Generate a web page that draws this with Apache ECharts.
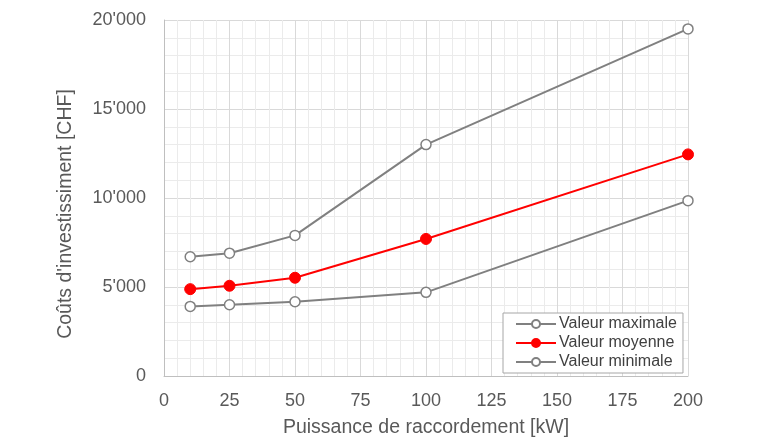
<!DOCTYPE html>
<html>
<head>
<meta charset="utf-8">
<script src="https://cdn.jsdelivr.net/npm/echarts@6/dist/echarts.min.js"></script>
<style>
  html, body { margin: 0; padding: 0; background: #fff; }
  #chart { width: 760px; height: 440px; }
</style>
</head>
<body>
<div id="chart"></div>
<script>
const puissance = [10, 25, 50, 100, 200]
const valeurMax = [6700, 6900, 7900, 13000, 19500]
const valeurMoy = [4880, 5070, 5520, 7700, 12450]
const valeurMin = [3910, 4000, 4170, 4700, 9850]

const pairs = (vals) => puissance.map((x, i) => [x, vals[i]])
const fmt = (v) => String(v).replace(/\B(?=(\d{3})+(?!\d))/g, "'")

const mychart = echarts.init(document.getElementById('chart'))
const font = 'Liberation Sans, Arial, sans-serif'

mychart.setOption({
  animation: false,
  textStyle: { fontFamily: font },
  grid: { left: 164, right: 72, top: 20, bottom: 64, containLabel: false, outerBoundsMode: 'none' },
  xAxis: {
    type: 'value',
    min: 0,
    max: 200,
    interval: 25,
    name: 'Puissance de raccordement [kW]',
    nameLocation: 'middle',
    nameGap: 42,
    nameTextStyle: { fontSize: 19.5, color: '#595959' },
    axisLine: { show: true, lineStyle: { color: '#bfbfbf', width: 1 } },
    axisTick: { show: false },
    axisLabel: { fontSize: 18, color: '#595959', margin: 16 },
    splitLine: { show: true, lineStyle: { color: '#d9d9d9', width: 1 } },
    minorTick: { show: false, splitNumber: 5 },
    minorSplitLine: { show: true, lineStyle: { color: '#ebebeb', width: 1 } }
  },
  yAxis: {
    type: 'value',
    min: 0,
    max: 20000,
    interval: 5000,
    name: "Coûts d'investissiment [CHF]",
    nameLocation: 'middle',
    nameGap: 88,
    nameTextStyle: { fontSize: 19.5, color: '#595959', padding: [0, 32, 0, 0] },
    axisLine: { show: true, lineStyle: { color: '#bfbfbf', width: 1 } },
    axisTick: { show: false },
    axisLabel: { fontSize: 18, color: '#595959', margin: 18, formatter: fmt },
    splitLine: { show: true, lineStyle: { color: '#d9d9d9', width: 1 } },
    minorTick: { show: false, splitNumber: 5 },
    minorSplitLine: { show: true, lineStyle: { color: '#ebebeb', width: 1 } }
  },
  legend: {
    orient: 'vertical',
    left: 503,
    top: 313,
    itemWidth: 40,
    itemHeight: 10,
    itemGap: 3,
    padding: [3, 6, 3, 12],
    backgroundColor: '#fff',
    borderColor: '#a6a6a6',
    borderWidth: 1,
    borderRadius: 0,
    textStyle: { fontSize: 16, lineHeight: 16, color: '#404040', fontFamily: font, padding: [0, 0, 0, -2] },
    data: ['Valeur maximale', 'Valeur moyenne', 'Valeur minimale']
  },
  series: [
    {
      name: 'Valeur maximale',
      type: 'line',
      data: pairs(valeurMax),
      symbol: 'circle',
      symbolSize: 10,
      lineStyle: { color: '#808080', width: 2 },
      itemStyle: { color: '#ffffff', borderColor: '#808080', borderWidth: 1.5 }
    },
    {
      name: 'Valeur moyenne',
      type: 'line',
      data: pairs(valeurMoy),
      symbol: 'circle',
      symbolSize: 11,
      lineStyle: { color: '#ff0000', width: 2 },
      itemStyle: { color: '#ff0000', borderColor: '#ff0000', borderWidth: 1 }
    },
    {
      name: 'Valeur minimale',
      type: 'line',
      data: pairs(valeurMin),
      symbol: 'circle',
      symbolSize: 10,
      lineStyle: { color: '#808080', width: 2 },
      itemStyle: { color: '#ffffff', borderColor: '#808080', borderWidth: 1.5 }
    }
  ]
})
</script>
</body>
</html>
